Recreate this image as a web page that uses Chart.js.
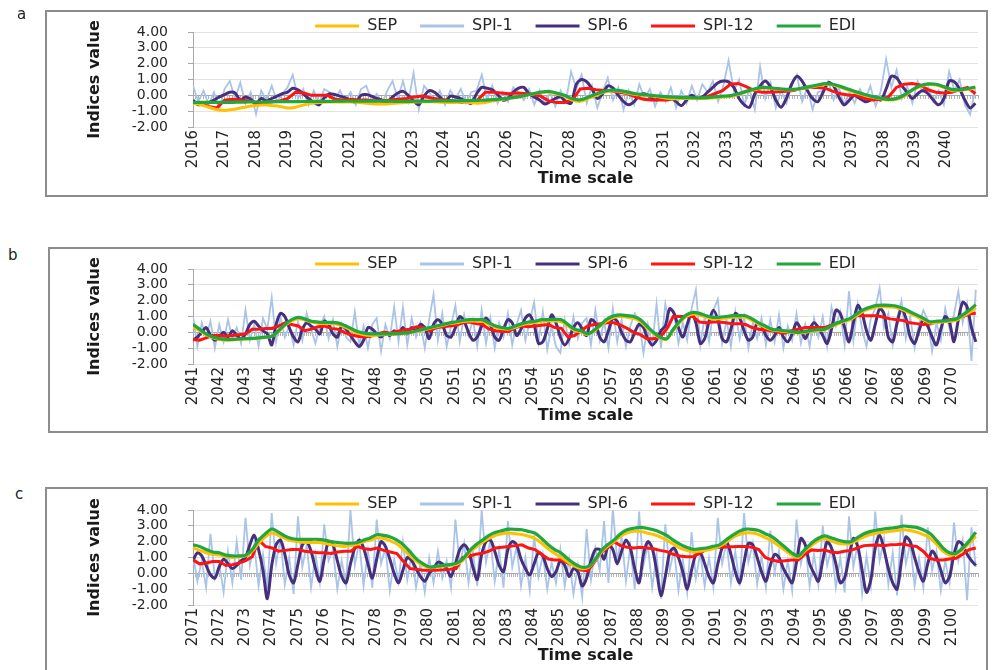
<!DOCTYPE html>
<html><head><meta charset="utf-8">
<script src="https://cdn.jsdelivr.net/npm/chart.js@4.4.1/dist/chart.umd.min.js"></script>
<style>
html,body{margin:0;padding:0;background:#fff;width:994px;height:670px;overflow:hidden;font-family:"DejaVu Sans",sans-serif;}
#page{position:relative;width:994px;height:670px;overflow:hidden;}
.tag{position:absolute;font-size:15px;color:#222;font-family:"DejaVu Sans",sans-serif;z-index:6;}
.frame{position:absolute;border:2px solid #8c8c8c;box-sizing:border-box;z-index:5;pointer-events:none;}
canvas{position:absolute;z-index:1;}
</style></head><body>
<div id="page">
<div class="frame" style="left:45px;top:10px;width:943px;height:187px"></div>
<div class="frame" style="left:48px;top:247px;width:940px;height:186px"></div>
<div class="frame" style="left:45px;top:487px;width:943px;height:200px"></div>
<div class="tag" style="left:17px;top:5px">a</div>
<div class="tag" style="left:8px;top:246px">b</div>
<div class="tag" style="left:15px;top:485px">c</div>
<canvas id="cA" width="944" height="209" style="left:44px;top:-5px"></canvas>
<canvas id="cB" width="944" height="208" style="left:44px;top:233px"></canvas>
<canvas id="cC" width="944" height="203" style="left:44px;top:473px"></canvas>
</div>
<script>
// ---- categories / labels ----
const seriesNames = ['SEP','SPI-1','SPI-6','SPI-12','EDI'];
const yTicks = [-2,-1,0,1,2,3,4];
const startYears = [2016, 2041, 2071];
const endYears = [2041, 2071, 2101];

// ---- panel a (2016-2040) ----
const sepA = [
-0.5,-0.6,-0.75,-0.9, -0.95,-0.9,-0.8,-0.7, -0.65,-0.6,-0.65,-0.7, -0.8,-0.75,-0.6,-0.5,
-0.45,-0.42,-0.42,-0.42, -0.42,-0.45,-0.5,-0.55, -0.55,-0.52,-0.48,-0.45, -0.42,-0.4,-0.4,-0.42,
-0.45,-0.45,-0.42,-0.45, -0.5,-0.45,-0.35,-0.28, -0.2,-0.12,-0.02,0.08, 0.18,0.2,0.1,-0.05,
-0.3,-0.38,-0.2,0.0, 0.2,0.28,0.25,0.15, 0.05,0.0,-0.05,-0.1, -0.18,-0.22,-0.2,-0.2,
-0.2,-0.2,-0.15,-0.1, -0.08,0.05,0.2,0.35, 0.45,0.45,0.4,0.35, 0.35,0.42,0.5,0.6,
0.7,0.65,0.5,0.32, 0.15,0.0,-0.12,-0.22, -0.3,-0.25,-0.05,0.3, 0.55,0.68,0.65,0.5,
0.3,0.3,0.38,0.48];
const spi1A = [
0.6,-0.4,0.3,-0.6,0.2,-0.9, 0.4,0.9,-0.2,0.8,-0.5,0.2, -1.2,0.3,-0.3,0.6,-0.4,0.1,
0.5,1.3,-0.2,0.4,-0.6,0.3, -0.5,0.4,0.2,-0.3,0.3,-0.4, 0.2,-0.6,0.4,0.6,-0.3,0.1,
-0.5,0.3,0.9,-0.2,0.9,-0.4, 1.4,-0.9,0.6,0.2,-0.4,0.3, -0.6,0.3,-0.2,0.4,-0.5,0.2,
0.3,1.3,-0.3,0.6,-0.5,0.2, -0.4,0.5,0.2,-0.3,0.4,-0.6, 0.3,-0.5,0.2,-0.7,0.3,-0.4,
1.5,0.4,1.3,-0.5,0.6,-0.8, 0.2,1.1,-0.3,0.5,-0.9,0.3, -0.6,0.7,-0.2,0.4,-0.7,0.2,
-0.4,0.5,-0.8,0.3,-0.5,0.6, -0.3,0.7,0.2,0.9,-0.4,0.6, 2.2,0.3,1.0,-0.6,0.4,-0.9,
1.8,-0.2,0.8,-0.8,0.3,-0.5, 0.6,1.3,-0.4,0.5,-0.9,0.2, 0.3,0.9,-0.3,0.5,-0.6,0.2,
-0.5,0.4,-0.3,0.6,-0.7,0.3, 2.3,0.5,1.6,-0.2,0.6,-0.5, 0.9,0.2,0.5,-0.4,0.3,-0.6,
1.5,0.3,1.0,-0.6,-1.2,0.4];
const spi6A = [
-0.3,-0.6,-0.5,-0.45,-0.3,-0.1, 0.05,0.2,0.15,-0.3,-0.1,-0.25, -0.5,-0.2,-0.35,-0.2,-0.05,0.1,
0.2,0.45,0.35,0.1,-0.2,-0.45, -0.6,-0.15,0.1,0.05,-0.05,-0.15, -0.3,-0.45,0.0,0.05,-0.05,-0.2,
-0.3,-0.45,-0.1,0.15,0.25,0.0, -0.35,-0.6,-0.05,0.3,0.2,-0.1, -0.4,-0.05,-0.1,-0.2,-0.4,-0.5,
0.1,0.5,0.45,0.35,0.05,-0.3, -0.2,0.2,0.45,0.5,0.1,-0.1, -0.3,-0.55,-0.4,-0.2,-0.1,-0.4,
-0.5,0.7,1.0,0.85,0.4,-0.2, 0.1,0.6,0.45,0.0,-0.4,-0.6, -0.4,0.0,0.1,-0.1,-0.3,-0.2,
-0.1,-0.15,-0.4,-0.65,-0.3,0.0, -0.2,-0.1,0.2,0.5,0.8,0.9, 0.85,0.5,-0.2,-0.6,-0.75,0.1,
0.6,0.9,0.5,-0.3,-0.75,-0.2, 0.7,1.2,0.9,0.3,-0.2,-0.4, 0.2,0.8,0.6,-0.1,-0.6,-0.3,
0.0,-0.2,-0.4,-0.3,-0.1,-0.3, 0.4,1.2,1.1,0.6,0.2,-0.2, 0.1,0.3,0.1,-0.3,-0.6,-0.2,
0.9,0.85,0.4,-0.3,-0.8,-0.5];
const spi12A = [
-0.45,-0.55,-0.7,-0.8, -0.3,-0.25,-0.3,-0.35, -0.45,-0.45,-0.4,-0.35, -0.2,0.2,0.15,0.0,
0.0,0.0,-0.25,-0.3, -0.25,-0.3,-0.3,-0.35, -0.35,-0.3,-0.25,-0.2, -0.1,-0.05,-0.15,-0.25,
-0.3,-0.35,-0.45,-0.35, -0.3,0.2,0.2,0.15, 0.1,0.15,0.12,0.05, -0.05,-0.35,-0.45,-0.45,
-0.3,0.4,0.45,0.35, 0.3,0.28,0.2,0.1, -0.1,-0.25,-0.3,-0.3, -0.3,-0.2,-0.15,-0.2,
-0.2,-0.1,0.1,0.3, 0.7,0.75,0.55,0.3, 0.2,0.2,0.22,0.25, 0.3,0.45,0.5,0.5,
0.45,0.25,0.1,0.0, 0.0,-0.2,-0.3,-0.25, -0.1,0.5,0.7,0.75, 0.65,0.35,0.2,0.15,
0.2,0.35,0.5,0.1];
const ediA = [
-0.45,-0.45,-0.45,-0.45, -0.45,-0.44,-0.43,-0.42, -0.42,-0.42,-0.41,-0.4, -0.4,-0.4,-0.39,-0.38,
-0.38,-0.38,-0.37,-0.36, -0.36,-0.36,-0.36,-0.36, -0.36,-0.37,-0.38,-0.38, -0.37,-0.36,-0.36,-0.35,
-0.35,-0.35,-0.34,-0.33, -0.32,-0.3,-0.27,-0.23, -0.18,-0.1,0.0,0.1, 0.2,0.25,0.15,0.0,
-0.22,-0.28,-0.12,0.08, 0.25,0.32,0.3,0.2, 0.1,0.05,0.0,-0.05, -0.1,-0.12,-0.14,-0.15,
-0.16,-0.15,-0.1,-0.05, -0.02,0.1,0.25,0.4, 0.5,0.48,0.42,0.38, 0.38,0.45,0.55,0.65,
0.74,0.7,0.55,0.38, 0.21,0.05,-0.08,-0.18, -0.25,-0.2,0.02,0.35, 0.6,0.72,0.7,0.55,
0.38,0.35,0.42,0.53];

// ---- panel b (2041-2070) ----
const sepB = [
0.35,0.1,-0.15,-0.35, -0.45,-0.5,-0.48,-0.45, -0.42,-0.4,-0.38,-0.32, -0.25,0.05,0.45,0.72,
0.85,0.78,0.65,0.58, 0.55,0.55,0.5,0.35, 0.15,-0.05,-0.15,-0.2, -0.18,-0.15,-0.12,-0.1,
-0.08,-0.02,0.06,0.15, 0.25,0.35,0.45,0.55, 0.6,0.68,0.72,0.72, 0.7,0.5,0.32,0.22,
0.2,0.32,0.48,0.58, 0.62,0.7,0.72,0.72, 0.68,0.4,0.12,0.02, -0.15,0.1,0.42,0.75,
0.95,1.0,0.95,0.88, 0.68,0.3,-0.08,-0.35, -0.45,0.12,0.62,1.0, 1.15,1.08,0.95,0.85,
0.85,0.9,0.95,0.95, 0.95,0.75,0.5,0.32, 0.15,0.1,0.05,0.0, -0.05,0.0,0.08,0.12,
0.15,0.35,0.52,0.68, 0.82,1.1,1.35,1.5, 1.6,1.62,1.6,1.55, 1.4,1.2,1.0,0.8,
0.6,0.62,0.65,0.7, 0.75,1.0,1.25,1.55];
const spi1B = [
1.0,-0.9,0.6,-0.3,0.7,-1.0, 0.5,-0.6,0.8,-0.4,0.3,-0.7, 1.4,-0.5,0.5,-0.9,0.9,0.2,
2.2,-0.6,1.0,-0.3,0.4,-0.8, 0.7,-0.5,1.2,0.2,-0.7,0.4, 1.0,-0.4,0.8,-0.9,0.5,-0.3,
-0.6,1.3,-0.8,0.4,-1.0,0.5, 0.9,-1.2,0.5,-0.4,1.6,-0.6, 1.6,-0.8,0.9,-0.3,0.6,-1.0,
0.8,2.4,-0.5,1.2,-0.9,0.4, 1.7,-0.6,1.1,-0.2,0.8,-0.9, 1.4,-0.7,0.9,-1.0,0.6,-0.3,
1.2,-0.8,0.5,1.4,-0.5,0.7, 1.9,-0.6,1.3,-1.1,0.4,-0.9, -1.3,0.8,-0.7,1.0,-0.4,0.6,
0.9,-0.8,1.4,-0.5,0.7,-1.0, 1.5,-0.6,0.8,-0.9,0.4,1.2, 0.7,-1.3,0.5,-0.8,1.8,-1.0,
1.8,0.4,1.2,-0.7,0.6,-0.5, 1.5,2.7,-0.8,1.0,-0.6,1.4, 2.1,-0.7,0.8,-0.9,1.3,-0.4,
1.0,-1.0,0.6,-0.4,0.9,-0.8, 0.8,-0.6,1.1,-1.0,0.4,-0.5, 1.2,-0.7,0.5,-0.9,0.9,-0.3,
1.0,-0.9,1.6,0.4,1.3,-0.8, 2.6,-0.5,1.8,0.2,-0.9,0.9, 1.5,2.8,0.3,1.2,-0.8,0.9,
2.0,-0.4,1.0,-1.0,0.5,1.4, 0.8,-1.2,0.6,-0.5,1.5,0.2, 1.1,2.6,0.6,1.8,-1.8,2.7];
const spi6B = [
-0.5,-0.3,0.0,0.3,-0.2,-0.5, -0.3,0.0,-0.3,0.1,-0.2,-0.4, -0.1,0.5,0.7,0.4,0.1,-0.1,
-0.8,0.5,1.2,1.0,0.3,-0.3, -0.6,0.2,0.6,0.4,0.2,-0.1, 0.7,0.5,-0.1,-0.3,0.4,0.2,
-0.2,-0.6,-0.9,-0.5,0.3,0.2, -0.1,-0.3,0.0,-0.2,0.1,-0.1, 0.3,-0.1,0.3,0.1,0.5,0.3,
-0.4,0.5,0.8,0.5,-0.2,-0.3, 0.3,1.0,0.7,0.0,-0.5,-0.3, 0.4,0.9,0.5,-0.3,-0.5,0.2,
0.8,0.6,-0.2,0.2,0.9,1.1, 0.5,-0.7,-0.6,0.2,1.1,0.6, -0.3,-0.8,-0.4,0.3,0.6,0.2,
-0.2,0.8,0.6,-0.3,-0.6,0.1, 0.9,0.7,0.0,-0.5,-0.6,0.0, 0.5,0.3,-0.4,-0.8,-0.5,0.1,
0.4,1.5,1.2,0.3,-0.3,0.5, 1.2,0.6,-0.7,-0.4,0.7,1.4, 0.8,-0.4,-0.6,0.2,1.2,0.9,
0.1,-0.5,-0.3,0.6,0.4,-0.2, -0.5,-0.2,0.3,-0.3,-0.6,-0.1, 0.6,0.2,-0.4,0.2,0.6,0.3,
-0.2,-0.7,0.2,1.4,1.2,0.3, -0.6,0.6,1.7,1.2,0.1,-0.5, 0.5,1.5,1.2,-0.3,-0.6,0.6,
1.5,0.9,-0.3,-0.7,0.1,0.8, 0.4,-0.3,-0.8,0.2,1.0,0.6, -0.6,0.8,1.9,1.6,0.3,-0.6];
const spi12B = [
-0.45,-0.5,-0.35,-0.2, -0.2,-0.25,-0.2,-0.15, -0.1,0.2,0.2,0.25, 0.25,0.4,0.6,0.5,
0.4,0.1,0.2,0.35, 0.4,0.25,0.2,0.0, -0.15,-0.25,-0.3,-0.25, -0.1,0.0,-0.05,0.05,
0.15,0.2,0.35,0.3, 0.1,0.3,0.35,0.4, 0.45,0.6,0.65,0.55, 0.5,0.2,0.1,0.05,
0.05,0.3,0.4,0.35, 0.4,0.45,0.5,0.3, 0.25,-0.3,-0.2,0.1, 0.4,0.5,0.55,0.6,
0.6,0.45,0.25,0.0, -0.15,-0.4,-0.4,-0.3, 0.2,1.0,1.0,1.0, 1.0,0.65,0.6,0.65,
0.65,0.6,0.55,0.55, 0.5,0.3,0.2,0.15, 0.1,0.0,-0.05,0.1, 0.2,0.3,0.3,0.3,
0.3,0.45,0.6,0.75, 0.85,1.05,1.05,1.05, 1.05,0.95,0.85,0.8, 0.74,0.6,0.55,0.5,
0.53,0.65,0.7,0.8, 0.84,1.0,1.15,1.2];
const ediB = [
0.5,0.2,-0.1,-0.3, -0.4,-0.45,-0.45,-0.42, -0.4,-0.38,-0.35,-0.3, -0.25,0.1,0.5,0.8,
0.95,0.85,0.7,0.65, 0.63,0.63,0.6,0.45, 0.25,0.05,-0.05,-0.1, -0.1,-0.1,-0.1,-0.08,
-0.05,0.0,0.1,0.2, 0.3,0.4,0.5,0.6, 0.67,0.75,0.8,0.8, 0.8,0.6,0.4,0.3,
0.25,0.4,0.55,0.65, 0.7,0.8,0.8,0.82, 0.8,0.5,0.2,0.1, -0.1,0.15,0.5,0.85,
1.05,1.1,1.05,1.0, 0.8,0.4,0.0,-0.3, -0.4,0.2,0.7,1.1, 1.26,1.2,1.05,0.95,
0.95,1.0,1.05,1.05, 1.05,0.85,0.6,0.4, 0.2,0.15,0.1,0.05, 0.0,0.05,0.12,0.18,
0.2,0.4,0.6,0.75, 0.9,1.2,1.45,1.6, 1.7,1.72,1.7,1.65, 1.5,1.3,1.1,0.9,
0.67,0.7,0.72,0.78, 0.84,1.1,1.4,1.75];

// ---- panel c (2071-2100) ----
const sepC = [
1.6,1.45,1.3,1.2, 1.15,1.05,1.0,1.05, 1.1,1.4,1.9,2.3, 2.55,2.4,2.2,2.05,
2.0,1.95,1.95,1.95, 1.9,1.8,1.75,1.7, 1.75,1.85,2.0,2.1, 2.25,2.2,2.05,1.85,
1.5,1.1,0.75,0.5, 0.35,0.4,0.45,0.5, 0.55,0.8,1.3,1.65, 1.95,2.2,2.4,2.5,
2.55,2.5,2.45,2.35, 2.2,1.9,1.55,1.25, 1.0,0.7,0.45,0.3, 0.35,0.75,1.3,1.7,
2.0,2.35,2.55,2.65, 2.65,2.55,2.45,2.3, 2.1,1.85,1.6,1.45, 1.35,1.4,1.45,1.55,
1.7,1.95,2.25,2.45, 2.55,2.55,2.45,2.25, 2.05,1.75,1.45,1.15, 1.0,1.4,1.75,2.05,
2.2,2.05,1.9,1.85, 1.9,2.1,2.3,2.45, 2.55,2.6,2.65,2.7, 2.75,2.7,2.6,2.45,
2.25,1.85,1.4,1.15, 1.2,1.5,1.9,2.35];
const spi1C = [
1.2,-0.5,0.8,-0.9,2.5,-0.3, 0.6,-1.2,1.4,-0.6,2.0,-0.4, 3.5,0.5,1.8,-0.8,1.2,-1.0,
3.8,0.6,2.2,-0.7,1.0,-1.3, 3.6,0.4,1.8,-0.9,1.2,-0.6, 3.1,0.8,1.5,-1.0,0.8,-0.7,
4.0,0.5,2.0,-0.8,1.4,-0.9, 3.4,0.6,1.6,-1.1,0.9,-0.5, 2.0,-0.4,1.2,-0.9,0.6,-1.2,
1.0,-0.6,1.4,-0.3,0.8,-0.9, 3.4,0.5,1.9,-0.6,1.3,-0.8, 4.0,0.7,2.1,-0.5,1.5,-0.9,
3.3,0.4,1.7,-0.8,1.0,-1.1, 2.4,-0.2,1.2,-1.0,0.7,-0.6, 1.5,-0.8,0.9,-1.3,0.5,-1.5,
2.8,-0.4,1.6,0.2,3.3,-0.6, 4.1,0.8,2.3,-0.5,1.7,-1.0, 3.9,0.5,1.8,-0.9,1.2,-1.6,
3.1,0.2,1.5,-1.1,0.9,-1.2, 2.6,-0.3,1.3,-0.8,1.0,-0.9, 3.5,0.6,2.0,-0.6,1.4,-0.8,
3.8,0.7,1.9,-0.7,1.1,-0.9, 2.7,0.1,1.4,-1.0,0.8,-1.1, 3.4,0.6,1.8,-0.8,1.2,-0.7,
3.0,0.5,1.6,-0.9,1.0,-1.2, 3.6,0.4,1.9,-1.3,1.1,-0.8, 3.9,0.8,2.2,-0.7,1.3,-1.4,
3.7,0.6,1.9,-0.8,1.0,-0.9, 2.9,0.2,1.4,-1.1,0.8,-0.6, 3.2,0.8,2.1,-1.7,2.9,0.4];
const spi6C = [
0.8,1.3,1.1,0.5,-0.1,-0.3, 0.4,0.9,0.6,0.3,0.5,0.8, 1.0,1.8,2.4,1.5,0.2,-1.6,
0.5,1.8,2.1,1.2,-0.1,-0.6, 0.6,1.8,2.0,1.4,0.3,-0.5, 0.9,2.0,1.8,0.8,-0.2,-0.6,
0.6,1.6,2.1,1.6,0.6,-0.3, 0.9,2.0,1.7,0.9,0.0,-0.6, 0.2,1.0,0.8,0.3,-0.2,-0.5,
0.0,0.3,0.7,0.6,0.3,-0.2, 0.6,1.5,1.8,1.4,0.4,-0.4, 1.2,2.0,2.1,1.4,0.5,0.1,
1.5,2.0,1.8,0.9,0.3,-0.1, 0.6,1.3,1.1,0.3,-0.2,0.1, 0.8,0.5,-0.2,0.3,0.1,-0.8,
-0.3,0.8,1.5,1.5,0.9,1.8, 1.5,0.6,1.4,2.1,1.6,0.3, -0.6,1.2,2.0,1.6,0.2,-1.4,
-0.2,1.3,1.6,1.0,0.1,-1.0, 0.2,1.2,1.3,0.6,-0.2,-0.6, 0.6,1.6,2.0,1.2,0.1,-0.6,
0.7,1.9,1.8,1.0,0.1,-0.5, 0.5,1.2,1.0,0.3,-0.2,-0.6, 0.7,2.2,1.8,0.6,0.0,-0.5,
0.8,2.0,1.6,0.6,-0.6,-0.3, 1.0,2.2,1.7,0.2,-1.2,-0.4, 1.6,2.4,1.5,0.3,-0.6,-1.0,
0.8,2.3,2.0,1.0,0.1,-0.5, 0.6,1.4,1.0,0.2,-0.6,-0.2, 1.2,2.0,1.8,1.2,0.8,0.5];
const spi12C = [
0.85,0.6,0.65,0.75, 0.75,0.5,0.55,0.65, 0.8,1.05,2.1,1.7, 1.6,1.4,1.45,1.5,
1.5,1.4,1.35,1.3, 1.3,1.25,1.35,1.4, 1.4,1.7,1.55,1.5, 1.6,1.45,1.35,1.25,
0.75,0.3,0.25,0.2, 0.2,0.2,0.22,0.25, 0.3,1.0,1.1,1.2, 1.27,1.4,1.6,1.65,
1.7,1.75,1.8,1.6, 1.5,1.2,0.9,0.85, 0.85,0.65,0.5,0.2, 0.15,0.7,1.3,1.6,
2.0,1.75,1.65,1.6, 1.64,1.6,1.55,1.45, 1.37,1.2,1.1,1.05, 1.05,1.25,1.5,1.6,
1.64,1.66,1.68,1.7, 1.69,1.65,1.5,1.0, 0.84,0.75,0.8,0.84, 0.84,1.2,1.48,1.45,
1.48,1.35,1.3,1.4, 1.45,1.6,1.75,1.78, 1.79,1.75,1.8,1.82, 1.85,1.75,1.7,1.4,
0.95,0.85,0.85,0.9, 0.95,1.2,1.5,1.6];
const ediC = [
1.8,1.7,1.5,1.35, 1.3,1.15,1.1,1.1, 1.15,1.5,2.1,2.5, 2.8,2.6,2.35,2.2,
2.15,2.15,2.15,2.15, 2.1,2.0,1.95,1.9, 1.9,1.95,2.1,2.25, 2.45,2.4,2.3,2.1,
1.8,1.35,0.9,0.6, 0.4,0.45,0.5,0.55, 0.63,0.9,1.4,1.8, 2.1,2.4,2.6,2.7,
2.79,2.78,2.75,2.65, 2.53,2.2,1.8,1.5, 1.27,0.9,0.6,0.4, 0.42,0.8,1.4,1.8,
2.1,2.5,2.75,2.85, 2.9,2.85,2.75,2.6, 2.4,2.1,1.85,1.65, 1.52,1.55,1.6,1.7,
1.8,2.1,2.4,2.65, 2.79,2.78,2.7,2.5, 2.32,2.0,1.65,1.3, 1.1,1.5,1.9,2.2,
2.36,2.25,2.1,2.0, 2.0,2.25,2.5,2.65, 2.74,2.8,2.85,2.9, 2.99,2.95,2.9,2.75,
2.53,2.1,1.6,1.3, 1.27,1.6,2.05,2.6];

const panelData = [
  [sepA, spi1A, spi6A, spi12A, ediA],
  [sepB, spi1B, spi6B, spi12B, ediB],
  [sepC, spi1C, spi6C, spi12C, ediC]
];

// ---- styles / layout ----
const seriesColors = ['#FFC000', '#A9C4E6', '#46307E', '#FF1414', '#22A63E'];
const seriesWidths = [3, 1.8, 3, 3, 3.2];
const drawOrder = [1, 4, 3, 2, 0];
const seriesTension = [0.3, 0, 0.3, 0, 0.3];
const canvasIds = ['cA', 'cB', 'cC'];
const legendHeights = [37, 36, 37];
const xAxisHeights = [77, 77, 71];
const xTitlePad = [16, 16, 11];
const FONT = 'DejaVu Sans';

function toPoints(vals, start, end) {
  const span = end - start - 1 / 12;
  return vals.map((v, i) => ({ x: start + i * span / (vals.length - 1), y: v }));
}

canvasIds.forEach((id, p) => {
  const start = startYears[p], end = endYears[p];
  const years = [];
  for (let y = start; y < end; y++) years.push(y);
  const months = [];
  for (let m = 0; m <= (end - start) * 12; m++) months.push(start + m / 12);
  const datasets = seriesNames.map((name, s) => ({
    label: name,
    data: toPoints(panelData[p][s], start, end),
    borderColor: seriesColors[s],
    backgroundColor: seriesColors[s],
    borderWidth: seriesWidths[s],
    pointRadius: 0,
    tension: seriesTension[s],
    order: drawOrder[s],
    xAxisID: 'x'
  }));
  new Chart(document.getElementById(id), {
    type: 'line',
    data: { datasets },
    options: {
      responsive: false, animation: false, devicePixelRatio: 1,
      layout: { padding: { left: 0, right: 10, top: 0, bottom: 0 } },
      plugins: {
        tooltip: { enabled: false },
        legend: {
          display: true, position: 'top', fullSize: false, maxHeight: legendHeights[p],
          labels: {
            boxWidth: 44, boxHeight: 3, padding: 23, color: '#262626',
            font: { family: FONT, size: 16 },
            sort: (a, b) => a.datasetIndex - b.datasetIndex,
            generateLabels: chart => Chart.defaults.plugins.legend.labels.generateLabels(chart).map(l => Object.assign(l, { lineWidth: 0 }))
          }
        }
      },
      scales: {
        x: {
          type: 'linear', min: start, max: end,
          afterBuildTicks: s => { s.ticks = years.map(v => ({ value: v })); },
          afterFit: s => { s.height = xAxisHeights[p]; },
          grid: { display: false, drawTicks: false },
          border: { display: false },
          ticks: { autoSkip: false, maxRotation: 90, minRotation: 90, padding: 3, color: '#262626',
                   font: { family: FONT, size: 15 }, callback: v => String(v) },
          title: { display: true, text: 'Time scale', color: '#1a1a1a',
                   font: { family: FONT, size: 16, weight: 'bold' }, padding: { top: 0, bottom: xTitlePad[p] } }
        },
        xMonths: {
          type: 'linear', axis: 'x', position: { y: 0 }, min: start, max: end,
          afterBuildTicks: s => { s.ticks = months.map(v => ({ value: v })); },
          ticks: { display: false },
          grid: { drawOnChartArea: false, drawTicks: true, tickLength: 3, color: '#b4b4b4', lineWidth: 1 },
          border: { display: true, color: '#a8a8a8' }
        },
        y: {
          min: -2, max: 4,
          afterBuildTicks: s => { s.ticks = yTicks.map(v => ({ value: v })); },
          afterFit: s => { s.width = 149; },
          grid: { color: c => (c.tick && c.tick.value === 0) ? '#a8a8a8' : '#e2e2e2',
                  tickLength: 5, tickColor: '#a8a8a8', drawTicks: true },
          border: { display: true, color: '#a8a8a8' },
          ticks: { autoSkip: false, padding: 20, color: '#262626',
                   font: { family: FONT, size: 14, lineHeight: 1.1 }, callback: v => Number(v).toFixed(2) },
          title: { display: true, text: 'Indices value', color: '#1a1a1a',
                   font: { family: FONT, size: 16, weight: 'bold' }, padding: { top: 41, bottom: 0 } }
        }
      }
    }
  });
});
</script>
</body></html>
